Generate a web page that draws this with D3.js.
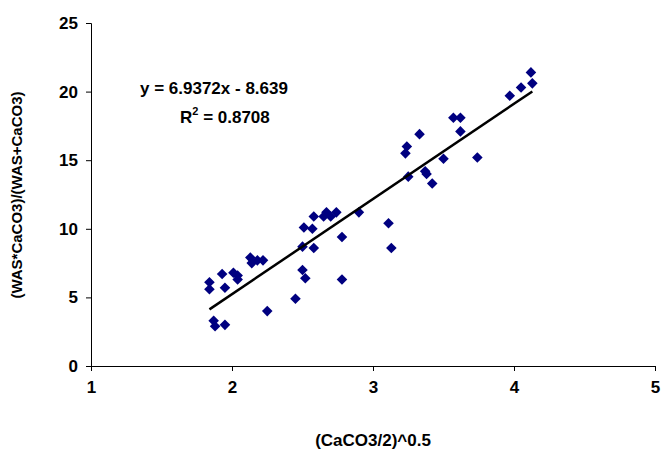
<!DOCTYPE html>
<html><head><meta charset="utf-8">
<script src="https://cdn.jsdelivr.net/npm/d3@7"></script>
<style>body{margin:0;background:#fff}text{font-family:"Liberation Sans",Arial,sans-serif;font-weight:bold}</style>
</head><body><svg id="c" width="661" height="455"></svg>
<script>
const xs = [1.84,1.84,1.93,1.95,1.87,1.88,1.95,2.01,2.04,2.04,2.13,2.14,2.18,2.22,2.25,2.45,2.50,2.52,2.50,2.51,2.57,2.58,2.58,2.65,2.70,2.67,2.74,2.78,2.78,2.90,3.11,3.13,3.23,3.24,3.25,3.33,3.37,3.38,3.42,3.50,3.57,3.62,3.62,3.74,3.97,4.05,4.12,4.13];
const ys = [6.1,5.6,6.7,5.7,3.3,2.9,3.0,6.8,6.6,6.3,7.9,7.5,7.7,7.7,4.0,4.9,7.0,6.4,8.7,10.1,10.0,10.9,8.6,10.9,10.9,11.2,11.2,9.4,6.3,11.2,10.4,8.6,15.5,16.0,13.8,16.9,14.2,14.0,13.3,15.1,18.1,18.1,17.1,15.2,19.7,20.3,21.4,20.6];
const xTicks = [1,2,3,4,5];
const yTicks = [0,5,10,15,20,25];
const slope = 6.9372, intercept = -8.639;

const svg = d3.select('#c');
const x = d3.scaleLinear().domain([1,5]).range([91,655]);
const y = d3.scaleLinear().domain([0,25]).range([366,23]);

const xAxis = svg.append('g').attr('transform','translate(0,366)')
  .call(d3.axisBottom(x).tickValues(xTicks).tickFormat(d3.format('d')).tickSize(5).tickPadding(10));
const yAxis = svg.append('g').attr('transform','translate(91,0)')
  .call(d3.axisLeft(y).tickValues(yTicks).tickFormat(d3.format('d')).tickSize(5).tickPadding(8));
[xAxis,yAxis].forEach(a=>{
  a.select('.domain').attr('stroke','#000');
  a.selectAll('text').attr('font-size',17).attr('fill','#000');
});

svg.append('text').text('(CaCO3/2)^0.5').attr('x',373).attr('y',446)
  .attr('text-anchor','middle').attr('font-size',17);
svg.append('text').text('(WAS*CaCO3)/(WAS+CaCO3)')
  .attr('transform','translate(22,195) rotate(-90)')
  .attr('text-anchor','middle').attr('font-size',15);

const pts = xs.map((v,i)=>[v,ys[i]]);
svg.append('g').selectAll('path').data(pts).join('path')
  .attr('d', d3.symbol(d3.symbolSquare, 56))
  .attr('transform', d=>`translate(${x(d[0])},${y(d[1])}) rotate(45)`)
  .attr('fill','#000080');

const x0 = d3.min(xs), x1 = d3.max(xs);
svg.append('line')
  .attr('x1',x(x0)).attr('y1',y(slope*x0+intercept))
  .attr('x2',x(x1)).attr('y2',y(slope*x1+intercept))
  .attr('stroke','#000').attr('stroke-width',2.5);

svg.append('text').text('y = 6.9372x - 8.639').attr('x',140).attr('y',94).attr('font-size',17);
const r = svg.append('text').attr('x',180).attr('y',123).attr('font-size',17);
r.append('tspan').text('R');
r.append('tspan').text('2').attr('font-size',11).attr('dy',-8);
r.append('tspan').text(' = 0.8708').attr('dy',8);
</script></body></html>
